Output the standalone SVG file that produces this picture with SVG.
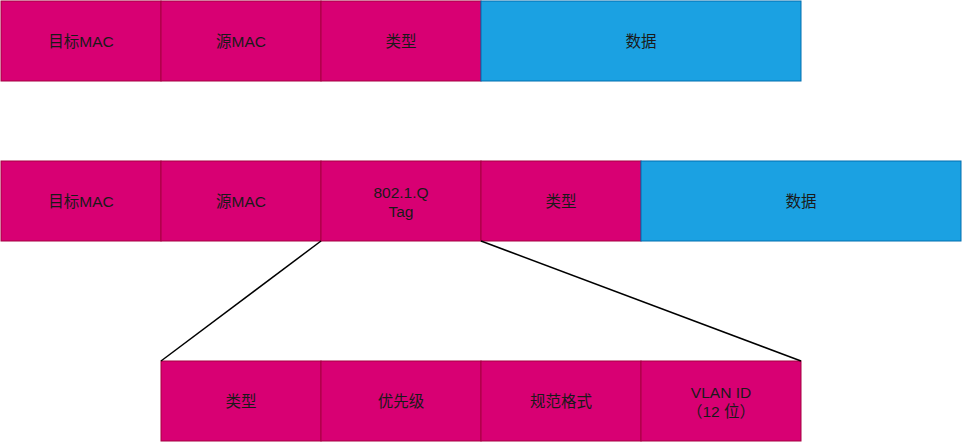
<svg xmlns="http://www.w3.org/2000/svg" width="962" height="442" viewBox="0 0 962 442">
<style>
.p{fill:#d80073;stroke:#a50040;stroke-width:1}
.b{fill:#1ba1e2;stroke:#006eaf;stroke-width:1}
text{font-family:"Liberation Sans","Noto Sans CJK SC",sans-serif;font-size:15.5px;fill:#1a1a1a;text-anchor:middle}
.c{stroke:#000;stroke-width:1.5;fill:none}
</style>
<rect width="962" height="442" fill="#fff"/>
<g id="row1">
<g id="r1-dst"><rect class="p" x="1" y="1" width="160" height="80"/><text x="81" y="47">目标MAC</text></g>
<g id="r1-src"><rect class="p" x="161" y="1" width="160" height="80"/><text x="241" y="47">源MAC</text></g>
<g id="r1-type"><rect class="p" x="321" y="1" width="160" height="80"/><text x="401" y="47">类型</text></g>
<g id="r1-data"><rect class="b" x="481" y="1" width="320" height="80"/><text x="641" y="47">数据</text></g>
</g>
<g id="row2">
<g id="r2-dst"><rect class="p" x="1" y="161" width="160" height="80"/><text x="81" y="207">目标MAC</text></g>
<g id="r2-src"><rect class="p" x="161" y="161" width="160" height="80"/><text x="241" y="207">源MAC</text></g>
<g id="r2-tag"><rect class="p" x="321" y="161" width="160" height="80"/><text x="401" y="198">802.1.Q</text><text x="401" y="217">Tag</text></g>
<g id="r2-type"><rect class="p" x="481" y="161" width="160" height="80"/><text x="561" y="207">类型</text></g>
<g id="r2-data"><rect class="b" x="641" y="161" width="320" height="80"/><text x="801" y="207">数据</text></g>
</g>
<g id="row3">
<g id="r3-type"><rect class="p" x="161" y="361" width="160" height="80"/><text x="241" y="407">类型</text></g>
<g id="r3-prio"><rect class="p" x="321" y="361" width="160" height="80"/><text x="401" y="407">优先级</text></g>
<g id="r3-cfi"><rect class="p" x="481" y="361" width="160" height="80"/><text x="561" y="407">规范格式</text></g>
<g id="r3-vid"><rect class="p" x="641" y="361" width="160" height="80"/><text x="721" y="398">VLAN ID</text><text x="721" y="417">（12 位）</text></g>
</g>
<g id="connectors">
<line class="c" x1="321" y1="241" x2="161" y2="361"/>
<line class="c" x1="481" y1="241" x2="801" y2="361"/>
</g>
</svg>
